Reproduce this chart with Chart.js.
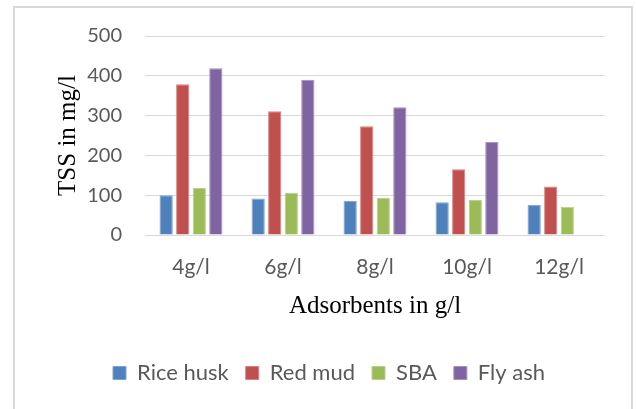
<!DOCTYPE html>
<html>
<head>
<meta charset="utf-8">
<script src="https://cdn.jsdelivr.net/npm/chart.js@4.4.1/dist/chart.umd.min.js"></script>
<style>
  html, body { margin: 0; padding: 0; background: #fff; }
  #wrap { position: relative; width: 636px; height: 409px; overflow: hidden; }
  #frame { position: absolute; left: 13px; top: 6px; width: 620px; height: 430px; box-sizing: border-box; border: 2px solid #d9d9d9; pointer-events: none; }
  canvas { position: absolute; left: 0; top: 0; }
</style>
</head>
<body>
<div id="wrap">
  <div id="frame"></div>
  <canvas id="c" width="636" height="409"></canvas>
</div>
<script>
const categories = ['4g/l', '6g/l', '8g/l', '10g/l', '12g/l'];
const riceHusk = [100, 92, 86, 82, 76];
const redMud   = [379, 311, 273, 165, 122];
const sba      = [118, 106, 93, 88, 71];
const flyAsh   = [419, 390, 321, 234, null];
const seriesNames = ['Rice husk', 'Red mud', 'SBA', 'Fly ash'];
const yTicks = [0, 100, 200, 300, 400, 500];

const colors = ['#4F81BD', '#C0504D', '#9BBB59', '#8064A2'];
const borders = ['#7FA2D0', '#D58280', '#BAD08A', '#A48FC0'];
const seriesData = [riceHusk, redMud, sba, flyAsh];

new Chart(document.getElementById('c'), {
  type: 'bar',
  data: {
    labels: categories,
    datasets: seriesData.map((d, i) => ({
      label: seriesNames[i],
      data: d,
      backgroundColor: colors[i],
      borderColor: borders[i],
      borderWidth: 1,
      categoryPercentage: 0.72,
      barPercentage: 0.8
    }))
  },
  options: {
    responsive: false,
    animation: false,
    layout: { padding: { left: 53, right: 31, top: 36, bottom: 15 } },
    plugins: {
      tooltip: { enabled: false },
      legend: {
        position: 'bottom',
        labels: {
          boxWidth: 13, boxHeight: 13,
          color: '#595959',
          font: { family: 'Lato', size: 22 },
          padding: 17
        }
      }
    },
    scales: {
      x: {
        grid: { display: false, drawTicks: false },
        border: { display: false },
        ticks: { color: '#595959', font: { family: 'Lato', size: 21 }, padding: 20, maxRotation: 0 },
        title: { display: true, text: 'Adsorbents in g/l', color: '#000', font: { family: 'Liberation Serif', size: 25 }, padding: { top: 8, bottom: 24 } },
        afterFit: s => { s.height = 110; }
      },
      y: {
        min: 0, max: 500,
        afterBuildTicks: s => { s.ticks = yTicks.map(v => ({ value: v })); },
        grid: { color: '#d9d9d9', lineWidth: 1, drawTicks: false },
        border: { display: false },
        ticks: { color: '#595959', font: { family: 'Lato', size: 20 }, padding: 23 },
        title: { display: true, text: 'TSS in mg/l', color: '#000', font: { family: 'Liberation Serif', size: 25 }, padding: { top: 0, bottom: 0 } },
        afterFit: s => { s.width = 92; }
      }
    }
  }
});
</script>
</body>
</html>
